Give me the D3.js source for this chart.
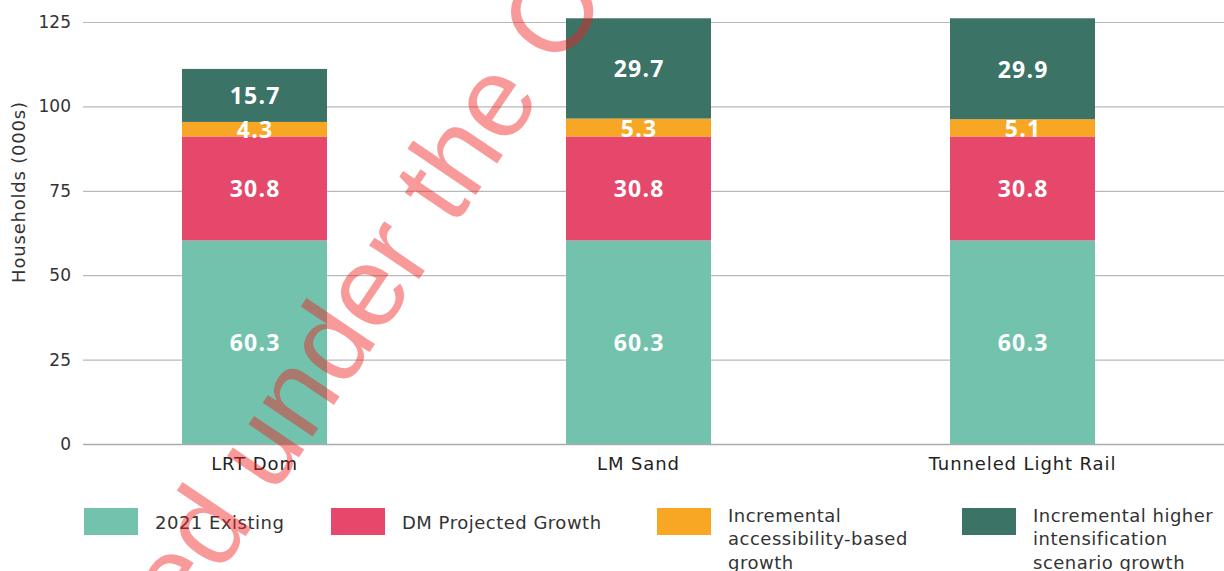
<!DOCTYPE html>
<html>
<head>
<meta charset="utf-8">
<script src="https://cdn.jsdelivr.net/npm/d3@7"></script>
<style>
  html, body { margin: 0; padding: 0; background: #fff; }
  svg { display: block; }
  text { font-family: "DejaVu Sans", "Noto Sans", sans-serif; }
</style>
</head>
<body>
<svg id="chart" width="1224" height="571"></svg>
<script>
// Household counts (thousands) per corridor option, stacked by growth component
const categories = ["LRT Dom", "LM Sand", "Tunneled Light Rail"];
const existing2021 = [60.3, 60.3, 60.3];
const dmProjected = [30.8, 30.8, 30.8];
const accessibilityGrowth = [4.3, 5.3, 5.1];
const intensificationGrowth = [15.7, 29.7, 29.9];
const seriesNames = [
  "2021 Existing",
  "DM Projected Growth",
  "Incremental accessibility-based growth",
  "Incremental higher intensification scenario growth"
];
const legendLines = [
  ["2021 Existing"],
  ["DM Projected Growth"],
  ["Incremental", "accessibility-based", "growth"],
  ["Incremental higher", "intensification", "scenario growth"]
];
const seriesColors = ["#72c2ad", "#e6486c", "#f7a723", "#3b7366"];
const yTicks = [0, 25, 50, 75, 100, 125];
const yTitle = "Households (000s)";

const seriesValues = [existing2021, dmProjected, accessibilityGrowth, intensificationGrowth];
const keys = ["s0", "s1", "s2", "s3"];
const rows = categories.map((c, i) => {
  const r = { category: c };
  keys.forEach((k, j) => r[k] = seriesValues[j][i]);
  return r;
});

const svg = d3.select("#chart");

const y = d3.scaleLinear().domain([0, 125]).range([444, 22]);
const x = d3.scaleBand().domain(categories).range([62.5, 1214.5])
  .paddingInner(0.6224).paddingOuter(0.3112);

// Gridlines and y tick labels
const yAxis = d3.axisLeft(y).tickValues(yTicks).tickSize(0).tickPadding(0);
const gy = svg.append("g").attr("transform", "translate(71,0)").call(yAxis);
gy.select(".domain").remove();
gy.selectAll(".tick text")
  .attr("x", 0)
  .attr("text-anchor", "end")
  .style("font-family", '"DejaVu Sans", sans-serif')
  .style("font-size", "17px")
  .attr("fill", "#333");
gy.selectAll(".tick").append("line")
  .attr("x1", 12).attr("x2", 1224 - 71)
  .attr("stroke", "#b9b9b9").attr("stroke-width", 1.2);

svg.append("text")
  .attr("transform", "translate(18,192) rotate(-90)")
  .attr("text-anchor", "middle")
  .attr("dominant-baseline", "central")
  .attr("font-size", 18)
  .attr("letter-spacing", 0.8)
  .attr("fill", "#333")
  .text(yTitle);

// Stacked bars
const stacked = d3.stack().keys(keys)(rows);
const layers = svg.append("g").selectAll("g").data(stacked).join("g")
  .attr("fill", (d, i) => seriesColors[i]);
layers.selectAll("rect").data(d => d).join("rect")
  .attr("x", d => x(d.data.category))
  .attr("width", x.bandwidth())
  .attr("y", d => y(d[1]))
  .attr("height", d => y(d[0]) - y(d[1]));

// Value labels centred in each segment
const labels = svg.append("g");
stacked.forEach((layer) => {
  labels.selectAll(null).data(layer).join("text")
    .attr("x", d => x(d.data.category) + x.bandwidth() / 2 + 0.6)
    .attr("y", d => (y(d[0]) + y(d[1])) / 2)
    .attr("text-anchor", "middle")
    .attr("dominant-baseline", "central")
    .style("font-family", '"Open Sans", sans-serif')
    .attr("font-size", 23)
    .attr("font-weight", 700)
    .attr("letter-spacing", 1.2)
    .attr("fill", "#fff")
    .text(d => (d[1] - d[0]).toFixed(1));
});

// Category axis
const xAxis = d3.axisBottom(x).tickSize(0).tickPadding(0);
const gx = svg.append("g").attr("transform", "translate(0,444)").call(xAxis);
gx.select(".domain").remove();
gx.selectAll(".tick text")
  .attr("y", 19)
  .attr("dy", null)
  .attr("dominant-baseline", "central")
  .style("font-family", '"DejaVu Sans", sans-serif')
  .style("font-size", "18px")
  .attr("letter-spacing", 0.9)
  .attr("fill", "#222");
svg.append("line").attr("x1", 83).attr("x2", 1224).attr("y1", 444.5).attr("y2", 444.5)
  .attr("stroke", "#aaa").attr("stroke-width", 1.5);

// Legend
const legendX = [84, 331, 657, 962];
const lg = svg.append("g").selectAll("g").data(seriesNames).join("g");
lg.append("rect")
  .attr("x", (d, i) => legendX[i]).attr("y", 508)
  .attr("width", 54).attr("height", 27)
  .attr("fill", (d, i) => seriesColors[i]);
lg.each(function (d, i) {
  const lines = legendLines[i];
  const t = d3.select(this).append("text")
    .attr("font-size", 18)
    .attr("letter-spacing", 0.5)
    .attr("fill", "#333");
  const y0 = lines.length === 1 ? 522 : 515;
  lines.forEach((ln, k) => {
    t.append("tspan")
      .attr("x", legendX[i] + 71)
      .attr("y", y0 + k * 23.7)
      .attr("dominant-baseline", "central")
      .text(ln);
  });
});

// Release watermark across the figure, placed by where its "O" begins
const wmText = "Released under the Official Information Act 1982";
const wmLead = "Released under the ";
const wmAngle = 56;
const wmO = [560, 70];
const wm = svg.append("text")
  .style("font-family", '"Liberation Sans", Arial, sans-serif')
  .attr("font-size", 114)
  .attr("fill", "#f01e1e")
  .attr("fill-opacity", 0.45)
  .style("pointer-events", "none")
  .text(wmText);
const lead = wm.node().getSubStringLength(0, wmLead.length);
const rad = wmAngle * Math.PI / 180;
wm.attr("transform",
  `translate(${wmO[0] - lead * Math.cos(rad)},${wmO[1] + lead * Math.sin(rad)}) rotate(${-wmAngle})`);
</script>
</body>
</html>
